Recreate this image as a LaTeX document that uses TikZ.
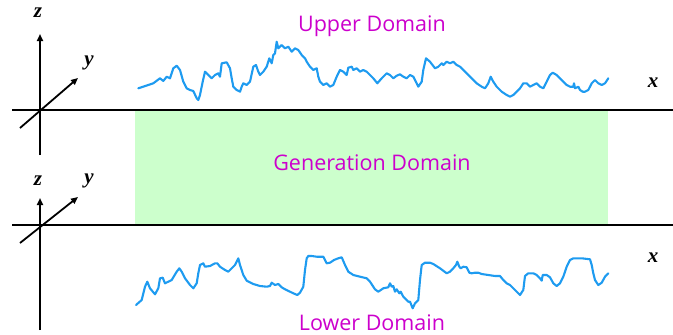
\documentclass[tikz,border=0pt]{standalone}
\usepackage{fontspec}
\setmainfont{Liberation Serif}
\newfontfamily\labelfont{Open Sans}
\usetikzlibrary{arrows.meta}
\definecolor{domtxt}{RGB}{204,0,204}
\definecolor{gengreen}{RGB}{204,255,204}
\definecolor{curveblue}{RGB}{30,155,240}
\tikzset{
  groundline/.style={line width=2.6pt,black},
  axisarrow/.style={line width=1.8pt,black,-{Triangle[length=7pt,width=6pt]}},
  axislabel/.style={font=\fontsize{21}{21}\selectfont\bfseries\itshape,inner sep=0pt},
  domainlabel/.style={font=\labelfont\fontsize{21.5}{21.5}\selectfont,text=domtxt,inner sep=0pt,anchor=base},
  roughcurve/.style={curveblue,line width=2.1pt,line join=round,line cap=round},
}
\begin{document}
\begin{tikzpicture}[x=1pt,y=-1pt]
\useasboundingbox (0,0) rectangle (673,335);
% generation domain
\fill[gengreen] (135,111) rectangle (608,224);
% base lines
\coordinate (tl) at (12,110); \coordinate (tr) at (673,110);
\coordinate (bl) at (12,225); \coordinate (br) at (673,225);
\draw[groundline] (tl) -- (tr);
\draw[groundline] (bl) -- (br);
% top axes
\coordinate (tzb) at (40,155); \coordinate (tzt) at (40,34);
\coordinate (tyb) at (20,128); \coordinate (tyt) at (78,78);
\draw[axisarrow] (tzb) -- (tzt);
\draw[axisarrow] (tyb) -- (tyt);
\node[axislabel] (tz) at (38,13) {z};
\node[axislabel] (ty) at (89,63) {y};
\node[axislabel] (tx) at (653,83) {x};
% bottom axes
\coordinate (bzb) at (40,330); \coordinate (bzt) at (40,198);
\coordinate (byb) at (20,243); \coordinate (byt) at (78,197);
\draw[axisarrow] (bzb) -- (bzt);
\draw[axisarrow] (byb) -- (byt);
\node[axislabel] (bz) at (38,181) {z};
\node[axislabel] (by) at (89,181) {y};
\node[axislabel] (bx) at (653,258) {x};
% labels
\node[domainlabel] (up) at (372,31) {Upper Domain};
\node[domainlabel] (gen) at (372,170) {Generation Domain};
\node[domainlabel] (low) at (372,330) {Lower Domain};
% upper curve
\draw[roughcurve] (138.3,88.3) -- (153.3,83.3) -- (160,78.3) -- (163.3,81) -- (166.7,76.7) -- (170,78.3) -- (173.3,68.3) -- (176.7,65.7) -- (180,70) -- (183.3,81.7) -- (186.7,88.3) -- (190,90) -- (193.3,91) -- (196.7,98.3) -- (198.3,100) -- (200,95) -- (202.7,81.7) -- (205,71.7) -- (208.3,75) -- (211.7,78.3) -- (215,75) -- (218.3,73.3) -- (220,76.7) -- (221.7,63.3) -- (226.7,62.3) -- (230,68.3) -- (231.7,78.3) -- (233.3,86.7) -- (236.7,90) -- (240,91.7) -- (241.7,86.7) -- (243.3,83.3) -- (246.7,85) -- (250,81.7) -- (253.3,66.7) -- (256,65) -- (258.3,71.7) -- (260,75) -- (263.3,71.7) -- (266.7,66.7) -- (269.3,58.3) -- (271.7,63.3) -- (273.3,55) -- (275,53.3) -- (276.7,41.7) -- (278.3,48.3) -- (281.7,45) -- (285,48.3) -- (288.3,46.7) -- (291.7,51.7) -- (295,48.3) -- (298.3,50) -- (301.7,55) -- (305,58.3) -- (306.7,61.7) -- (310,66.7) -- (313.3,70) -- (316.7,68.3) -- (318.3,76.7) -- (320,81.7) -- (323.3,85) -- (326.7,83.3) -- (330,86.7) -- (333.3,85) -- (336.7,76.7) -- (340,70) -- (343.3,71.7) -- (346.7,75) -- (348.3,67.7) -- (351.7,66.7) -- (353.3,70) -- (356.7,68.3) -- (360,71.7) -- (363.3,70) -- (366.7,71.7) -- (370,75) -- (373.3,78.3) -- (377.3,83.3) -- (381.7,78.3) -- (386.7,73.3) -- (390,75) -- (393.3,78.3) -- (396.7,75.7) -- (400,74.3) -- (403.3,76.7) -- (406.7,78.3) -- (410,75) -- (413.3,76.7) -- (416.7,83.3) -- (418.3,86.7) -- (421.7,81.7) -- (423.3,70) -- (426,58.3) -- (430,61.7) -- (435,68.3) -- (438.3,66.7) -- (441.7,63.3) -- (443.3,65) -- (446.7,61.7) -- (450,63.3) -- (453.3,61.7) -- (456.7,65) -- (460,66.7) -- (463.3,70) -- (466.7,73.3) -- (471.7,78.3) -- (476.7,83.3) -- (481.7,86.7) -- (485,88.3) -- (488.3,83.3) -- (490.7,76.7) -- (493.3,81.7) -- (496.7,86.7) -- (501.7,91.7) -- (506.7,95) -- (510,96.7) -- (513.3,95) -- (516.7,91.7) -- (520,88.3) -- (523.3,83.3) -- (526.7,83.3) -- (530,86.7) -- (533.3,85) -- (536.7,83.3) -- (540,86.7) -- (543.3,88.3) -- (546.7,81.7) -- (550,75) -- (552.7,72.7) -- (556.7,75) -- (560,78.3) -- (563.3,81.7) -- (566.7,85) -- (570,86.7) -- (573.3,86.7) -- (574,83.3) -- (575,88.3) -- (578.3,86.7) -- (580,90) -- (582.7,91.7) -- (585,91.7) -- (588.3,90) -- (591.7,83.3) -- (595,80) -- (598.3,83.3) -- (601.7,85) -- (605,83.3) -- (608.3,78.3);
% lower curve
\draw[roughcurve] (136,305) -- (141.7,300) -- (145,286.7) -- (147.3,281.7) -- (150,288.3) -- (155,294.3) -- (158.3,288.3) -- (160,278.3) -- (162.7,277.7) -- (165,283.3) -- (171.7,280) -- (176.7,271.7) -- (179.3,268.3) -- (181.7,271.7) -- (185,278.3) -- (190,285) -- (193.3,288.3) -- (196.7,283.3) -- (198.3,273.3) -- (200,265) -- (203.3,263.3) -- (205,266.7) -- (210,266) -- (215,263.3) -- (217.3,263.3) -- (220,266.7) -- (225,270) -- (228.3,271.7) -- (231.7,268.3) -- (235,265) -- (238.3,258.3) -- (240,265) -- (243.3,275) -- (246.7,280.7) -- (253.3,284) -- (260,286) -- (266.7,286.7) -- (270,286) -- (271.7,282.7) -- (275,285) -- (278.3,284) -- (281.7,287.3) -- (285,289.3) -- (290,291.7) -- (293.3,293.3) -- (297.3,295) -- (300,292.7) -- (303.3,286.7) -- (305,270) -- (306.7,258.3) -- (308.3,256) -- (311.7,256) -- (316.7,256.7) -- (323.3,256.7) -- (326.7,263.3) -- (330,262.7) -- (334,260) -- (338.3,258.3) -- (341.7,257.3) -- (345,265) -- (348.3,271.7) -- (353.3,275) -- (360,276.7) -- (366.7,278.3) -- (370,281.7) -- (375,289.3) -- (378.3,291.7) -- (383.3,288.3) -- (388.3,287.3) -- (390,283.3) -- (391.7,286.7) -- (393.3,286) -- (395,291.7) -- (396.7,289.3) -- (399.3,293.3) -- (400.7,291.7) -- (403.3,296.7) -- (406,299.3) -- (408.3,301.7) -- (410,301.7) -- (412.7,308.3) -- (415,303.3) -- (418.3,300) -- (420,280) -- (421.7,265) -- (425,262.7) -- (430,262.7) -- (433.3,264) -- (440,268.3) -- (446.7,273.3) -- (450,271.7) -- (453.3,268.3) -- (456,265) -- (457.3,261.7) -- (459.3,266.7) -- (460.7,268.3) -- (463.3,266.7) -- (466.7,267.3) -- (469.3,272.7) -- (471.7,273.3) -- (475,272.7) -- (478.3,272.7) -- (481.7,274) -- (488.3,275) -- (495,276) -- (500,276) -- (503.3,280) -- (506.7,283.3) -- (510,285) -- (515,290) -- (520,295) -- (523.3,290) -- (525,276) -- (528.3,273.3) -- (533.3,273.3) -- (536.7,275) -- (540,278.3) -- (541.7,280.7) -- (542.7,275) -- (546.7,275) -- (550,277.3) -- (553.3,283.3) -- (556.7,286) -- (560,283.3) -- (563.3,276.7) -- (566.7,266.7) -- (570,260) -- (573.3,258.3) -- (581.7,258.3) -- (590,259.3) -- (591.7,265) -- (593.3,273.3) -- (595,280) -- (598.3,285) -- (601.7,282.7) -- (605,276.7) -- (608.3,273.3);
\end{tikzpicture}
\end{document}
